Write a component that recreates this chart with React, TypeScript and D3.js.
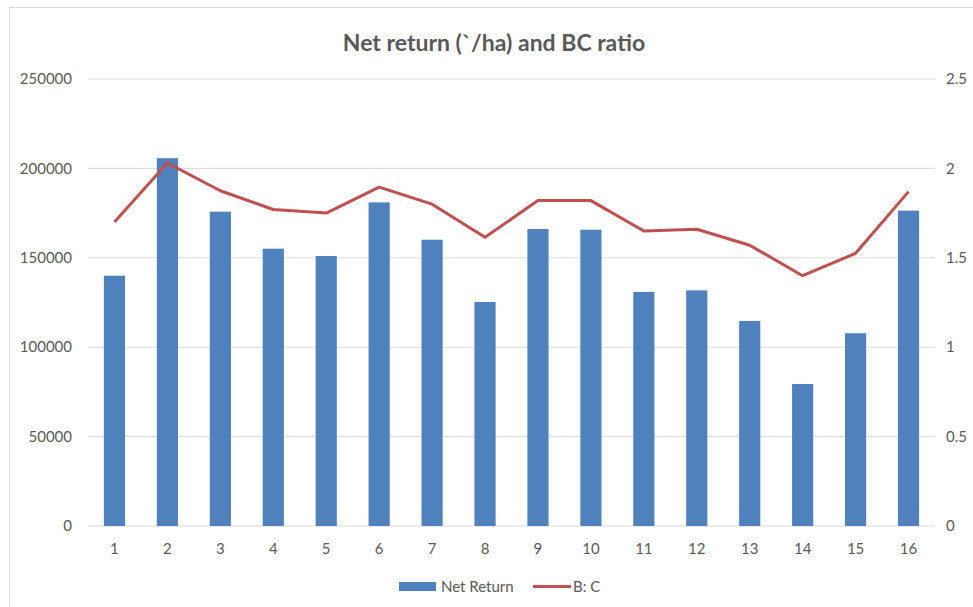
import React from "react";
import * as d3 from "d3";

const categories = ["1", "2", "3", "4", "5", "6", "7", "8", "9", "10", "11", "12", "13", "14", "15", "16"];
const netReturn = [140000, 205700, 175800, 155100, 151000, 181000, 160100, 125300, 166100, 165700, 130900, 131800, 114700, 79400, 107800, 176400];
const bcRatio = [1.7, 2.03, 1.875, 1.77, 1.75, 1.895, 1.8, 1.615, 1.82, 1.82, 1.65, 1.66, 1.57, 1.4, 1.525, 1.87];
const leftTicks = [0, 50000, 100000, 150000, 200000, 250000];
const rightTicks = [0, 0.5, 1, 1.5, 2, 2.5];

const W = 973,
  H = 607;
const plot = { left: 88, right: 935, top: 79, bottom: 526 };
const barColor = "#4f81bd",
  lineColor = "#c0504d",
  gridColor = "#d9d9d9",
  textColor = "#595959";
const font = "Lato, 'Open Sans', sans-serif";

export default function App() {
  const x = d3.scaleBand().domain(categories).range([plot.left, plot.right]).padding(0);
  const yL = d3.scaleLinear().domain([0, 250000]).range([plot.bottom, plot.top]);
  const yR = d3.scaleLinear().domain([0, 2.5]).range([plot.bottom, plot.top]);
  const barW = x.bandwidth() * 0.4;
  const cx = (c: string) => (x(c) as number) + x.bandwidth() / 2;

  const line = d3
    .line<number>()
    .x((_, i) => cx(categories[i]))
    .y((d) => yR(d));

  return (
    <svg
      width={W}
      height={H}
      style={{ position: "absolute", left: 0, top: 0, background: "#fff", fontFamily: font }}
    >
      {/* chart frame, cropped on right and bottom */}
      <rect x={9.5} y={7.5} width={1000} height={700} fill="#fff" stroke={gridColor} />

      <text x={494} y={51} textAnchor="middle" fontSize={23} fontWeight="bold" fill={textColor}>
        Net return (`/ha) and BC ratio
      </text>

      {/* gridlines */}
      {leftTicks.map((t) => (
        <line key={t} x1={plot.left} x2={plot.right} y1={yL(t)} y2={yL(t)} stroke={gridColor} strokeWidth={1} />
      ))}

      {/* left axis labels */}
      {leftTicks.map((t) => (
        <text key={"l" + t} x={72} y={yL(t)} dy="0.35em" textAnchor="end" fontSize={15} fill={textColor}>
          {t}
        </text>
      ))}

      {/* right axis labels */}
      {rightTicks.map((t) => (
        <text key={"r" + t} x={946} y={yR(t)} dy="0.35em" textAnchor="start" fontSize={15} fill={textColor}>
          {t}
        </text>
      ))}

      {/* bars */}
      {netReturn.map((v, i) => (
        <rect
          key={i}
          x={cx(categories[i]) - barW / 2}
          y={yL(v)}
          width={barW}
          height={yL(0) - yL(v)}
          fill={barColor}
        />
      ))}

      {/* category labels */}
      {categories.map((c) => (
        <text key={c} x={cx(c)} y={549} dy="0.35em" textAnchor="middle" fontSize={15} fill={textColor}>
          {c}
        </text>
      ))}

      {/* B:C line */}
      <path d={line(bcRatio) || ""} fill="none" stroke={lineColor} strokeWidth={3} strokeLinejoin="round" />

      {/* legend */}
      <rect x={399} y={582} width={37} height={9} fill={barColor} />
      <text x={441} y={586.5} dy="0.35em" fontSize={15} fill={textColor}>
        Net Return
      </text>
      <line x1={533} x2={571} y1={586.5} y2={586.5} stroke={lineColor} strokeWidth={3} />
      <text x={573} y={586.5} dy="0.35em" fontSize={15} fill={textColor}>
        B: C
      </text>
    </svg>
  );
}
